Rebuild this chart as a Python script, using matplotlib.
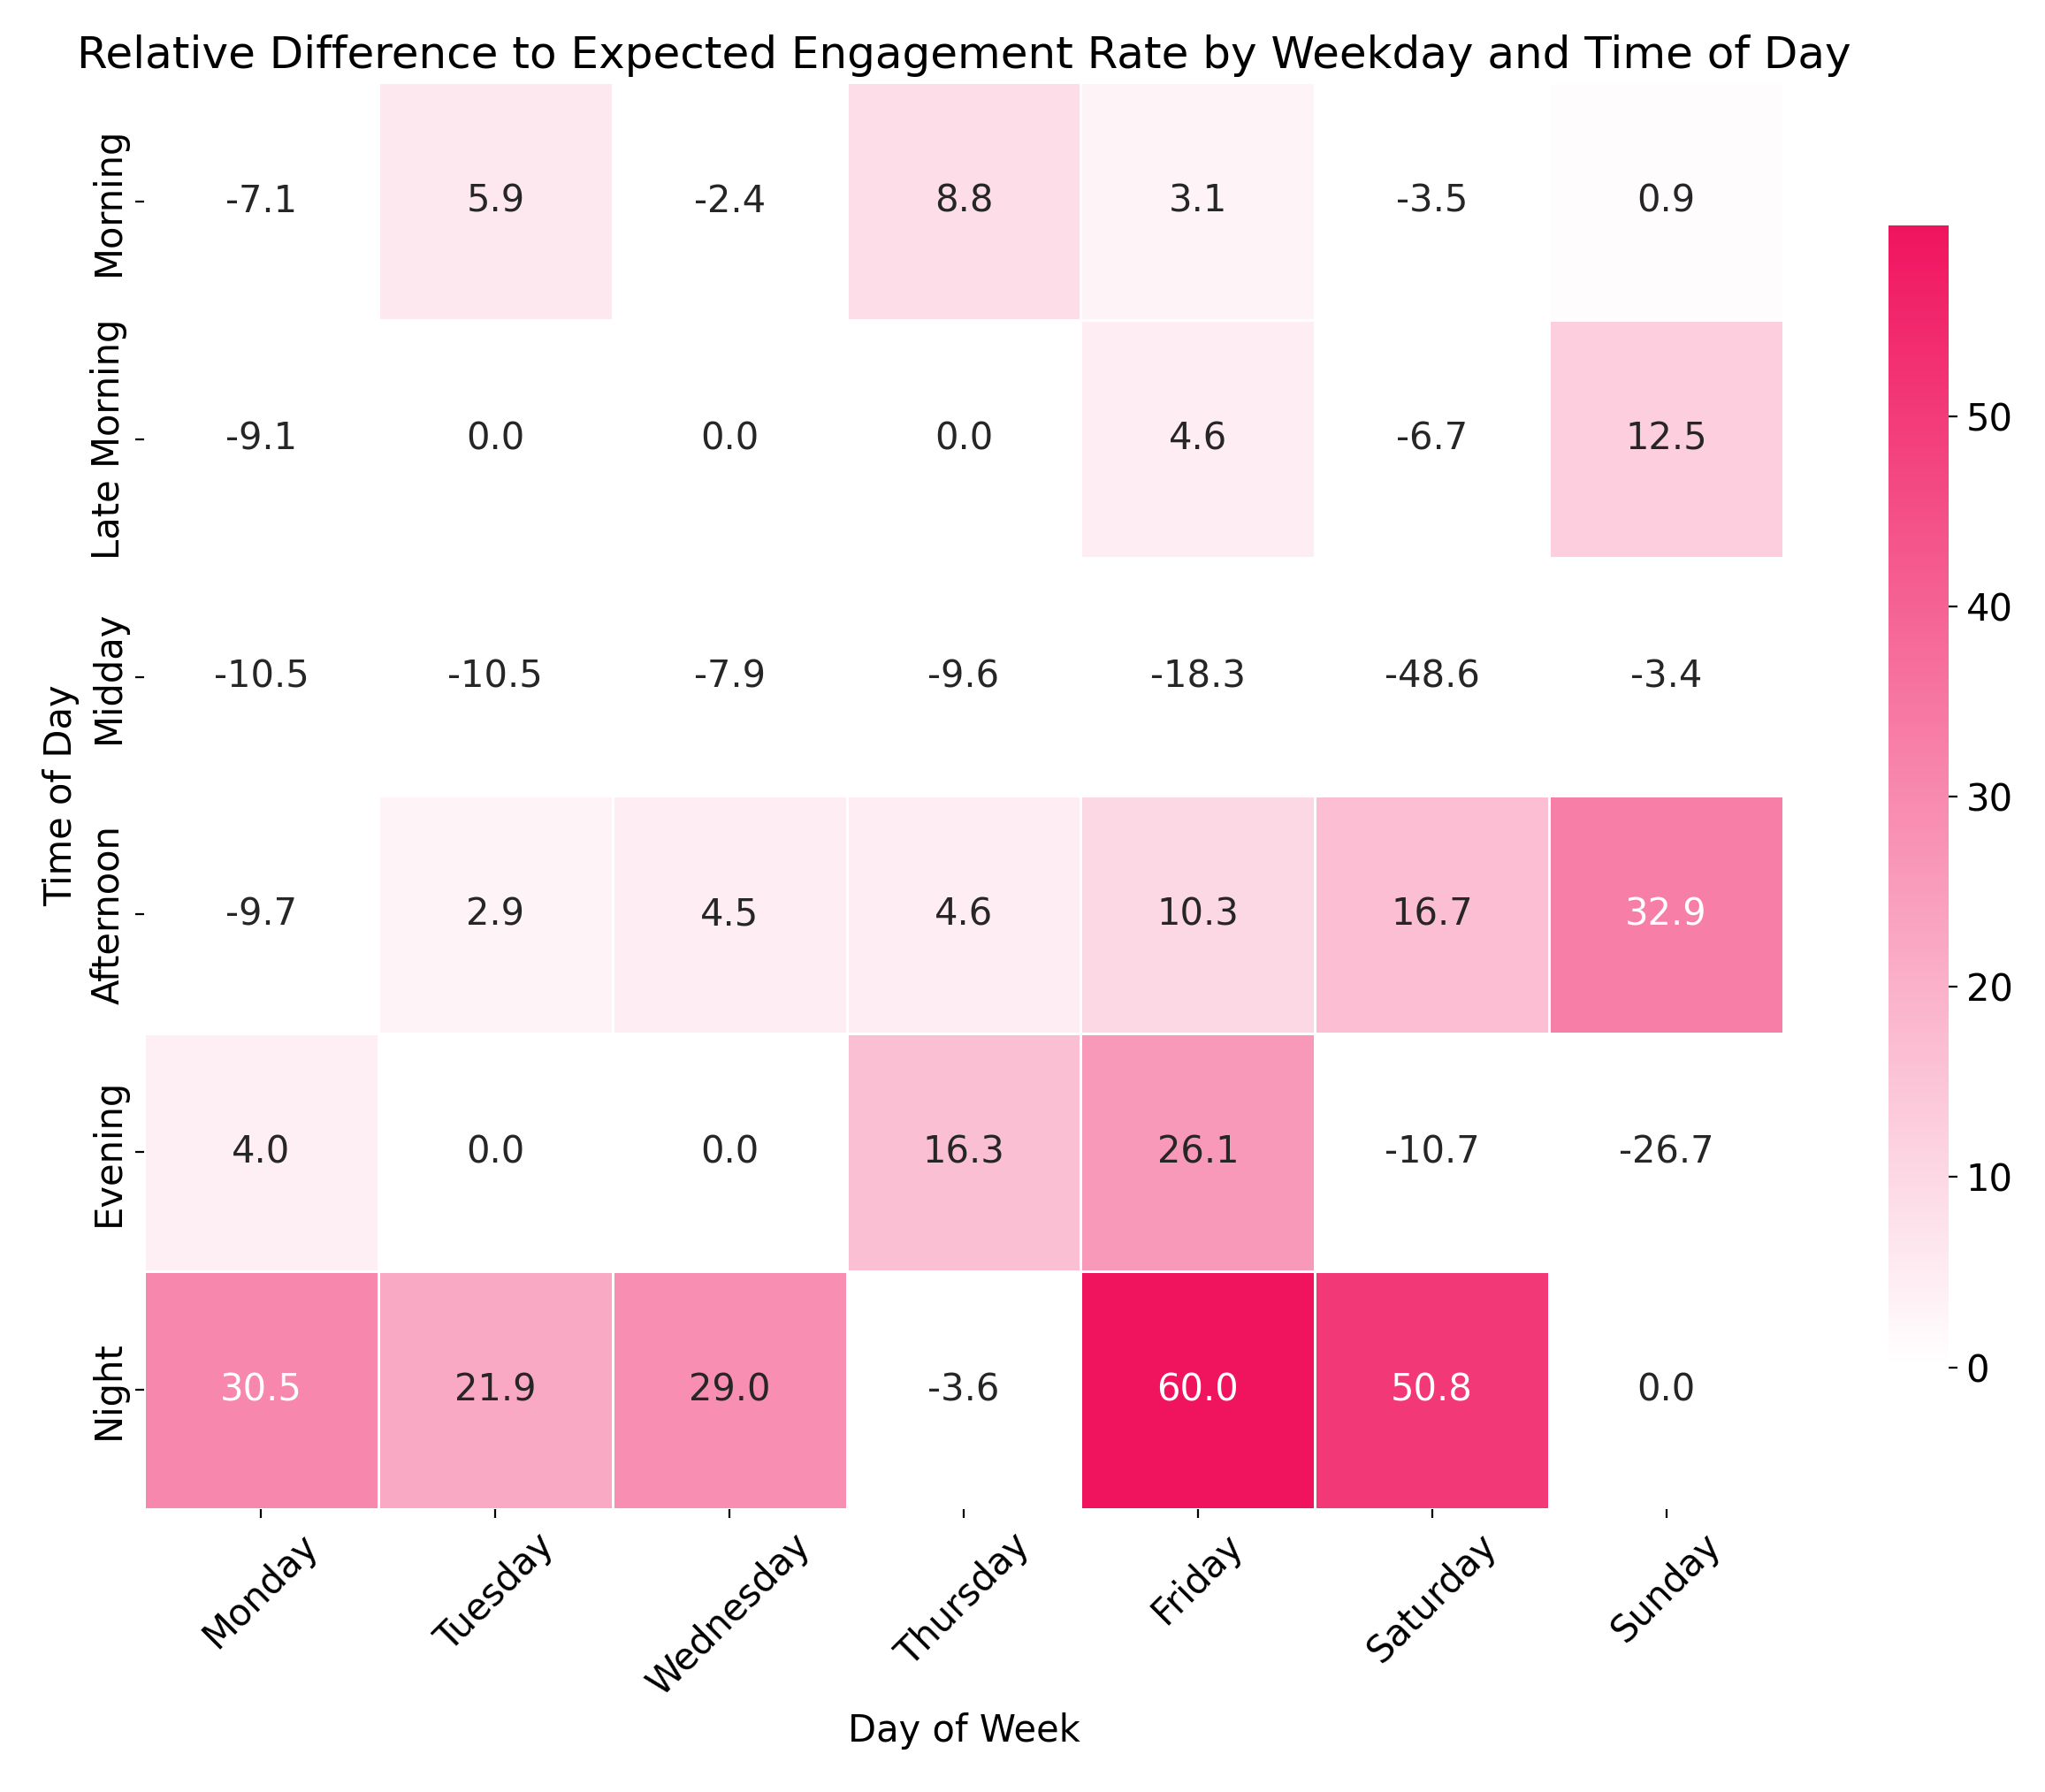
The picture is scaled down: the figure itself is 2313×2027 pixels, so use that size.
import numpy as np
import pandas as pd
import matplotlib
matplotlib.use('Agg')
import matplotlib.pyplot as plt
import seaborn as sns
from matplotlib.colors import LinearSegmentedColormap

# data
days = ['Monday', 'Tuesday', 'Wednesday', 'Thursday', 'Friday', 'Saturday', 'Sunday']
times = ['Morning', 'Late Morning', 'Midday', 'Afternoon', 'Evening', 'Night']
morning = [-7.1, 5.9, -2.4, 8.8, 3.1, -3.5, 0.9]
late_morning = [-9.1, 0.0, 0.0, 0.0, 4.6, -6.7, 12.5]
midday = [-10.5, -10.5, -7.9, -9.6, -18.3, -48.6, -3.4]
afternoon = [-9.7, 2.9, 4.5, 4.6, 10.3, 16.7, 32.9]
evening = [4.0, 0.0, 0.0, 16.3, 26.1, -10.7, -26.7]
night = [30.5, 21.9, 29.0, -3.6, 60.0, 50.8, 0.0]

df = pd.DataFrame([morning, late_morning, midday, afternoon, evening, night],
                  index=times, columns=days)

plt.rcParams['font.size'] = 15
cmap = LinearSegmentedColormap.from_list('pinks', ['#FFFFFF', '#F0145F'])

fig = plt.figure(figsize=(11.565, 10.135), dpi=200)
ax = fig.add_axes([0.0705, 0.158, 0.8015, 0.796])
cax = fig.add_axes([0.9235, 0.237, 0.0295, 0.637])
sns.heatmap(df, ax=ax, cbar_ax=cax, cmap=cmap, vmin=0, vmax=df.values.max(),
            annot=True, fmt='.1f', linewidths=1, linecolor='white')
ax.set_title('Relative Difference to Expected Engagement Rate by Weekday and Time of Day')
ax.set_xlabel('Day of Week')
ax.set_ylabel('Time of Day')
plt.setp(ax.get_xticklabels(), rotation=45)
plt.setp(ax.get_yticklabels(), rotation=90, va='center')
cax.set_yticks([0, 10, 20, 30, 40, 50])
plt.savefig('out.png', dpi=200)
